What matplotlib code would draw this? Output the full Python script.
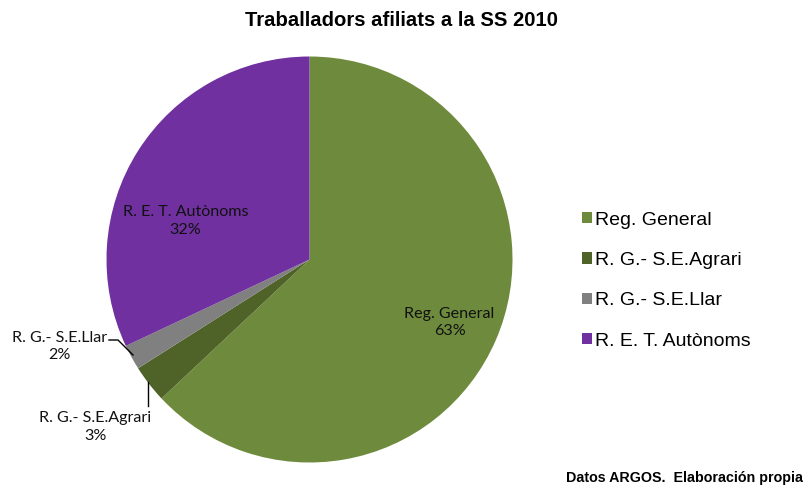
import matplotlib
matplotlib.use('Agg')
import matplotlib.pyplot as plt

# data
labels = ['Reg. General', 'R. G.- S.E.Agrari', 'R. G.- S.E.Llar', 'R. E. T. Autònoms']
values = [63, 3, 2, 32]
colors = ['#6E8B3D', '#4F6228', '#808080', '#7030A0']

W, H = 805, 486
fig = plt.figure(figsize=(W / 100, H / 100), dpi=100)

# pie axes: center (310, 260) px, radius 203 px
cx, cy, r = 309.5, 259.5, 203
ax = fig.add_axes([(cx - r) / W, (H - cy - r) / H, 2 * r / W, 2 * r / H])
wedges, _ = ax.pie(values, colors=colors, startangle=90, counterclock=False,
                   radius=1, wedgeprops=dict(linewidth=0))
ax.set_xlim(-1, 1)
ax.set_ylim(-1, 1)
ax.set_aspect('equal')
ax.axis('off')

lfont = dict(family=['Lato', 'DejaVu Sans'], fontsize=11.6, color='#111111',
             ha='center', va='center', linespacing=1.3)
pct = ['%d%%' % v for v in values]
ax.text(0.69, -0.31, labels[0] + '\n' + pct[0], **lfont)
ax.text(-0.61, 0.19, labels[3] + '\n' + pct[3], **lfont)
ax.text(-1.23, -0.43, labels[2] + '\n' + pct[2], clip_on=False, **lfont)
ax.text(-1.055, -0.825, labels[1] + '\n' + pct[1], clip_on=False, **lfont)

# leader lines
def px(x, y):
    return ((x - cx) / r, (cy - y) / r)

p = [px(109, 340), px(118, 340), px(133, 355)]
ax.plot([q[0] for q in p], [q[1] for q in p], color='black', lw=1, clip_on=False)
p = [px(148, 382), px(148, 406)]
ax.plot([q[0] for q in p], [q[1] for q in p], color='black', lw=1, clip_on=False)

# legend
leg = fig.legend(wedges, labels, loc='upper left', bbox_to_anchor=(564.5 / W, 1 - 194 / H),
                 frameon=False, handlelength=0.52, handleheight=0.52, handletextpad=0.15,
                 labelspacing=1.2, prop=dict(family='Liberation Sans', size=14))

fig.text(401 / W, 1 - 20 / H, 'Traballadors afiliats a la SS 2010', ha='center', va='center',
         family='Liberation Sans', fontweight='bold', fontsize=14.6)
fig.text(803 / W, 1 - 478 / H, 'Datos ARGOS.  Elaboración propia', ha='right', va='center',
         family='Liberation Sans', fontweight='bold', fontsize=10.3)

fig.savefig('out.png', dpi=100)
